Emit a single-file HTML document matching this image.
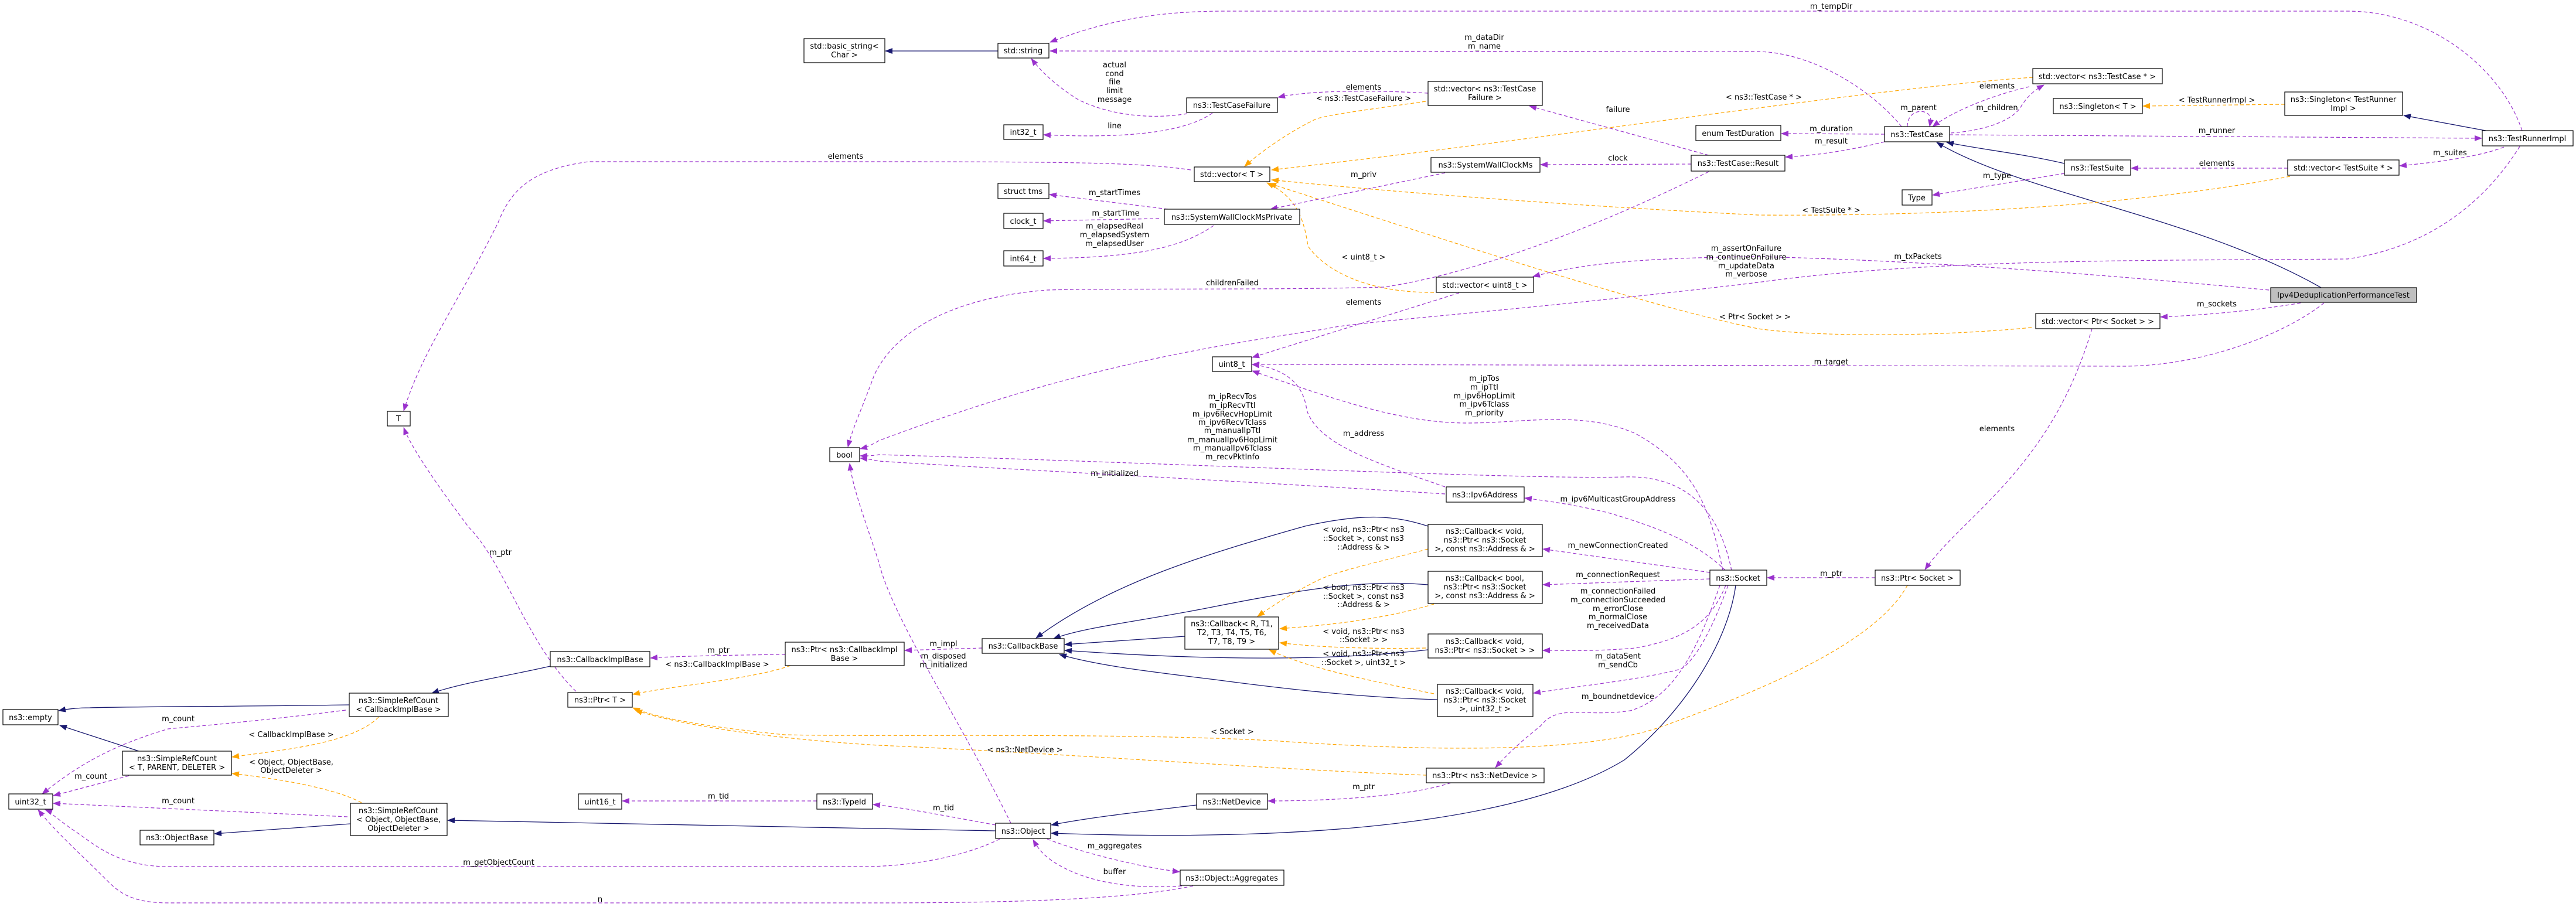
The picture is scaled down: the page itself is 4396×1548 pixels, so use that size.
<!DOCTYPE html>
<html><head><meta charset="utf-8"><style>
html,body{margin:0;padding:0;background:#fff;}
svg{display:block;}
text{font-family:"DejaVu Sans","Liberation Sans",sans-serif;font-size:13px;fill:#000;}
.b{fill:#fff;stroke:#000;stroke-width:1.2;}
.g{fill:#bfbfbf;stroke:#000;stroke-width:1.2;}
.p{fill:none;stroke:#9a32cd;stroke-width:1.2;stroke-dasharray:6,4;marker-end:url(#mp);}
.o{fill:none;stroke:#ffa500;stroke-width:1.2;stroke-dasharray:6,4;marker-end:url(#mo);}
.n{fill:none;stroke:#191970;stroke-width:1.3;marker-end:url(#mn);}
</style></head><body>
<svg width="4396" height="1548" viewBox="0 0 4396 1548" xmlns="http://www.w3.org/2000/svg">
<defs>
<marker id="mp" markerWidth="13" markerHeight="10" refX="12" refY="5" orient="auto" markerUnits="userSpaceOnUse"><path d="M0,0L13,5L0,10z" fill="#9a32cd"/></marker>
<marker id="mo" markerWidth="13" markerHeight="10" refX="12" refY="5" orient="auto" markerUnits="userSpaceOnUse"><path d="M0,0L13,5L0,10z" fill="#ffa500"/></marker>
<marker id="mn" markerWidth="13" markerHeight="10" refX="12" refY="5" orient="auto" markerUnits="userSpaceOnUse"><path d="M0,0L13,5L0,10z" fill="#191970"/></marker>
</defs>

<!-- ===== EDGES: navy inheritance ===== -->
<path class="n" d="M1703,87 L1511,87"/>
<path class="n" d="M3523,279 C3450,262 3380,255 3322,243"/>
<path class="n" d="M3961,491 C3750,370 3450,330 3305,243"/>
<path class="n" d="M4242,223 L4102,197"/>
<path class="n" d="M939,1137 C860,1155 790,1165 737,1183"/>
<path class="n" d="M596,1203 C400,1206 200,1206 153,1208 C130,1208 115,1210 100,1213"/>
<path class="n" d="M237,1282 L102,1238"/>
<path class="n" d="M598,1406 L366,1423"/>
<path class="n" d="M1699,1418 L764,1400"/>
<path class="n" d="M2042,1374 C1950,1385 1860,1395 1794,1408"/>
<path class="n" d="M2962,999 C2950,1090 2880,1210 2772,1297 C2620,1390 2300,1440 1794,1422"/>
<path class="n" d="M2437,898 C2380,880 2330,875 2227,898 C2080,940 1900,990 1768,1089"/>
<path class="n" d="M2437,998 C2340,990 2250,1000 2074,1035 C1950,1060 1850,1070 1798,1090"/>
<path class="n" d="M2022,1086 L1817,1100"/>
<path class="n" d="M2437,1109 C2300,1125 2100,1130 1817,1110"/>
<path class="n" d="M2453,1194 C2300,1190 2150,1170 2074,1160 C1950,1145 1870,1135 1808,1117"/>

<!-- ===== EDGES: orange template ===== -->
<path class="o" d="M2433,173 C2350,185 2270,195 2246,203 C2200,225 2150,260 2124,284"/>
<path class="o" d="M3469,132 C3200,150 2700,230 2170,290"/>
<path class="o" d="M3908,301 C3700,340 3400,370 3000,367 C2700,352 2400,330 2170,307"/>
<path class="o" d="M2447,499 C2330,500 2260,460 2232,420 C2225,370 2210,335 2162,312"/>
<path class="o" d="M3467,559 C3300,575 3100,575 3000,561 C2800,520 2500,420 2166,313"/>
<path class="o" d="M3899,178 L3657,181"/>
<path class="o" d="M646,1224 C600,1270 480,1280 396,1292"/>
<path class="o" d="M617,1370 C570,1345 480,1330 396,1320"/>
<path class="o" d="M1349,1136 C1280,1160 1150,1170 1080,1185"/>
<path class="o" d="M3255,999 C3200,1100 3000,1180 2839,1239 C2700,1290 2400,1280 2170,1264 C1900,1250 1500,1258 1339,1254 C1200,1240 1120,1225 1080,1208"/>
<path class="o" d="M2434,1323 C2200,1315 1800,1285 1500,1272 C1300,1260 1150,1235 1084,1212"/>
<path class="o" d="M2437,937 C2350,960 2280,975 2250,990 C2200,1015 2170,1035 2146,1052"/>
<path class="o" d="M2447,1031 C2350,1060 2250,1068 2184,1073"/>
<path class="o" d="M2433,1106 C2330,1108 2240,1104 2184,1097"/>
<path class="o" d="M2447,1184 C2330,1160 2230,1140 2166,1109"/>

<!-- ===== EDGES: purple usage ===== -->
<path class="p" d="M4304,223 C4270,120 4150,19 4006,19 L2093,19 C1990,19 1900,30 1792,72"/>
<path class="p" d="M3245,216 C3200,160 3100,90 3000,88 L1792,87"/>
<path class="p" d="M2026,194 C1960,205 1890,195 1840,170 C1800,145 1775,120 1760,100"/>
<path class="p" d="M2069,193 C2030,220 1950,238 1781,230"/>
<path class="p" d="M2437,159 C2330,153 2230,155 2181,166"/>
<path class="p" d="M2916,265 L2610,181"/>
<path class="p" d="M2886,280 L2629,281"/>
<path class="p" d="M2466,295 L2168,357"/>
<path class="p" d="M1993,357 L1791,332"/>
<path class="p" d="M1978,373 L1781,377"/>
<path class="p" d="M2071,385 C2020,420 1950,440 1781,441"/>
<path class="p" d="M2032,290 C1950,278 1850,276 1500,276 L1004,276 C900,290 870,330 850,380 C780,520 720,600 689,701"/>
<path class="p" d="M983,1180 C900,1100 860,960 800,900 C740,820 700,760 689,730"/>
<path class="p" d="M2916,293 C2700,400 2500,470 2361,490 C2200,495 1900,492 1787,495 C1600,510 1520,580 1492,640 C1470,700 1455,730 1447,763"/>
<path class="p" d="M3216,242 C3150,258 3100,265 3047,268"/>
<path class="p" d="M3216,229 L3040,228"/>
<path class="p" d="M3255,216 C3255,185 3290,185 3294,200 C3296,206 3294,210 3293,216"/>
<path class="p" d="M3463,148 C3410,160 3340,185 3298,216"/>
<path class="p" d="M3329,227 C3400,222 3440,200 3450,180 C3460,165 3470,155 3488,145"/>
<path class="p" d="M3327,230 L4235,236"/>
<path class="p" d="M4273,251 C4230,268 4150,278 4095,283"/>
<path class="p" d="M3904,287 L3637,287"/>
<path class="p" d="M3523,296 L3298,333"/>
<path class="p" d="M4300,250 C4250,330 4160,420 4006,442 C3700,445 3300,440 3000,482 C2600,530 2300,550 2265,561 C2000,600 1800,640 1500,752 C1490,758 1480,763 1468,766"/>
<path class="p" d="M3872,495 C3600,470 3300,445 3000,438 C2800,440 2700,450 2616,472"/>
<path class="p" d="M3926,517 C3850,530 3760,538 3687,541"/>
<path class="p" d="M3966,517 C3900,570 3760,625 3623,625 L2137,622"/>
<path class="p" d="M3570,561 C3500,800 3350,880 3285,972"/>
<path class="p" d="M3200,986 L3016,986"/>
<path class="p" d="M2490,500 L2137,610"/>
<path class="p" d="M2940,973 C2920,880 2900,800 2791,740 C2700,700 2600,722 2505,722 C2400,722 2300,690 2137,633"/>
<path class="p" d="M2466,831 C2350,790 2250,760 2230,700 C2225,660 2200,630 2137,622"/>
<path class="p" d="M2955,974 C2940,900 2900,810 2772,814 C2600,819 2000,790 1500,776 C1490,778 1480,778 1468,778"/>
<path class="p" d="M2466,843 C2100,820 1700,800 1500,787 C1490,785 1480,783 1468,782"/>
<path class="p" d="M1725,1405 C1650,1250 1520,1050 1500,960 C1470,870 1455,830 1450,791"/>
<path class="p" d="M1340,1117 C1250,1118 1150,1120 1110,1123"/>
<path class="p" d="M1676,1106 L1544,1110"/>
<path class="p" d="M590,1212 C450,1230 330,1240 287,1244 C200,1270 140,1300 72,1355"/>
<path class="p" d="M220,1324 L91,1358"/>
<path class="p" d="M593,1394 L91,1371"/>
<path class="p" d="M1394,1367 L1062,1367"/>
<path class="p" d="M1699,1408 C1600,1390 1540,1378 1490,1373"/>
<path class="p" d="M1706,1432 C1650,1460 1560,1479 1473,1479 L287,1479 C200,1479 160,1440 130,1420 C100,1400 85,1385 77,1382"/>
<path class="p" d="M2036,1512 C1950,1530 1800,1541 1500,1541 L287,1541 C220,1541 200,1520 180,1500 C140,1460 95,1420 65,1382"/>
<path class="p" d="M1787,1432 C1860,1460 1950,1480 2013,1488"/>
<path class="p" d="M2017,1512 C1930,1518 1870,1505 1830,1488 C1790,1470 1775,1455 1763,1433"/>
<path class="p" d="M2476,1336 C2420,1355 2300,1367 2164,1367"/>
<path class="p" d="M2935,999 C2900,1100 2860,1190 2782,1213 C2700,1225 2660,1200 2629,1239 C2590,1270 2570,1290 2552,1310"/>
<path class="p" d="M2945,974 C2900,930 2840,903 2744,875 C2680,860 2640,855 2602,850"/>
<path class="p" d="M2918,977 L2633,937"/>
<path class="p" d="M2918,988 L2633,998"/>
<path class="p" d="M2945,999 C2920,1060 2880,1090 2791,1106 C2720,1112 2680,1110 2633,1110"/>
<path class="p" d="M2949,999 C2920,1080 2890,1130 2868,1142 C2800,1160 2700,1170 2617,1183"/>

<!-- ===== EDGE LABELS ===== -->
<g text-anchor="middle">
<text x="3125" y="15">m_tempDir</text>
<text x="2533" y="68">m_dataDir</text><text x="2533" y="83">m_name</text>
<text x="1902" y="115">actual</text><text x="1902" y="130">cond</text><text x="1902" y="144">file</text><text x="1902" y="159">limit</text><text x="1902" y="174">message</text>
<text x="1902" y="219">line</text>
<text x="2327" y="153">elements</text>
<text x="2327" y="172">&lt; ns3::TestCaseFailure &gt;</text>
<text x="3010" y="170">&lt; ns3::TestCase * &gt;</text>
<text x="2761" y="191">failure</text>
<text x="2761" y="274">clock</text>
<text x="2327" y="302">m_priv</text>
<text x="1902" y="333">m_startTimes</text>
<text x="1904" y="368">m_startTime</text>
<text x="1902" y="390">m_elapsedReal</text><text x="1902" y="405">m_elapsedSystem</text><text x="1902" y="420">m_elapsedUser</text>
<text x="1443" y="271">elements</text>
<text x="3408" y="151">elements</text>
<text x="3274" y="188">m_parent</text>
<text x="3408" y="188">m_children</text>
<text x="3125" y="224">m_duration</text>
<text x="3125" y="245">m_result</text>
<text x="3783" y="175">&lt; TestRunnerImpl &gt;</text>
<text x="3783" y="227">m_runner</text>
<text x="4181" y="265">m_suites</text>
<text x="3783" y="283">elements</text>
<text x="3408" y="304">m_type</text>
<text x="3125" y="363">&lt; TestSuite * &gt;</text>
<text x="2327" y="443">&lt; uint8_t &gt;</text>
<text x="2103" y="487">childrenFailed</text>
<text x="2980" y="428">m_assertOnFailure</text><text x="2980" y="443">m_continueOnFailure</text><text x="2980" y="458">m_updateData</text><text x="2980" y="472">m_verbose</text>
<text x="3273" y="442">m_txPackets</text>
<text x="3783" y="523">m_sockets</text>
<text x="2327" y="520">elements</text>
<text x="2995" y="545">&lt; Ptr&lt; Socket &gt; &gt;</text>
<text x="3125" y="622">m_target</text>
<text x="2533" y="650">m_ipTos</text><text x="2533" y="665">m_ipTtl</text><text x="2533" y="680">m_ipv6HopLimit</text><text x="2533" y="694">m_ipv6Tclass</text><text x="2533" y="709">m_priority</text>
<text x="2103" y="681">m_ipRecvTos</text><text x="2103" y="696">m_ipRecvTtl</text><text x="2103" y="711">m_ipv6RecvHopLimit</text><text x="2103" y="725">m_ipv6RecvTclass</text><text x="2103" y="739">m_manualIpTtl</text><text x="2103" y="755">m_manualIpv6HopLimit</text><text x="2103" y="769">m_manualIpv6Tclass</text><text x="2103" y="784">m_recvPktInfo</text>
<text x="3408" y="736">elements</text>
<text x="2327" y="744">m_address</text>
<text x="1902" y="812">m_initialized</text>
<text x="2761" y="856">m_ipv6MulticastGroupAddress</text>
<text x="854" y="947">m_ptr</text>
<text x="2327" y="908">&lt; void, ns3::Ptr&lt; ns3</text><text x="2327" y="923">::Socket &gt;, const ns3</text><text x="2327" y="938">::Address &amp; &gt;</text>
<text x="2761" y="935">m_newConnectionCreated</text>
<text x="3125" y="983">m_ptr</text>
<text x="2761" y="985">m_connectionRequest</text>
<text x="2327" y="1007">&lt; bool, ns3::Ptr&lt; ns3</text><text x="2327" y="1022">::Socket &gt;, const ns3</text><text x="2327" y="1036">::Address &amp; &gt;</text>
<text x="2761" y="1013">m_connectionFailed</text><text x="2761" y="1028">m_connectionSucceeded</text><text x="2761" y="1043">m_errorClose</text><text x="2761" y="1057">m_normalClose</text><text x="2761" y="1072">m_receivedData</text>
<text x="2327" y="1082">&lt; void, ns3::Ptr&lt; ns3</text><text x="2327" y="1096">::Socket &gt; &gt;</text>
<text x="1610" y="1103">m_impl</text>
<text x="1226" y="1114">m_ptr</text>
<text x="2327" y="1120">&lt; void, ns3::Ptr&lt; ns3</text><text x="2327" y="1135">::Socket &gt;, uint32_t &gt;</text>
<text x="1610" y="1124">m_disposed</text><text x="1610" y="1139">m_initialized</text>
<text x="2761" y="1124">m_dataSent</text><text x="2761" y="1139">m_sendCb</text>
<text x="1224" y="1138">&lt; ns3::CallbackImplBase &gt;</text>
<text x="2761" y="1193">m_boundnetdevice</text>
<text x="304" y="1231">m_count</text>
<text x="2103" y="1253">&lt; Socket &gt;</text>
<text x="497" y="1258">&lt; CallbackImplBase &gt;</text>
<text x="1749" y="1284">&lt; ns3::NetDevice &gt;</text>
<text x="497" y="1305">&lt; Object, ObjectBase,</text><text x="497" y="1319">ObjectDeleter &gt;</text>
<text x="155" y="1329">m_count</text>
<text x="2327" y="1347">m_ptr</text>
<text x="1226" y="1363">m_tid</text>
<text x="304" y="1371">m_count</text>
<text x="1610" y="1383">m_tid</text>
<text x="1902" y="1448">m_aggregates</text>
<text x="851" y="1476">m_getObjectCount</text>
<text x="1902" y="1492">buffer</text>
<text x="1024" y="1539">n</text>
</g>

<!-- ===== NODES ===== -->
<g text-anchor="middle">
<rect class="b" x="1372" y="66" width="138" height="41"/><text x="1441" y="83">std::basic_string&lt;</text><text x="1441" y="98">Char &gt;</text>
<rect class="b" x="1703" y="74" width="87" height="25"/><text x="1746" y="91">std::string</text>
<rect class="b" x="2025" y="167" width="155" height="25"/><text x="2102" y="184">ns3::TestCaseFailure</text>
<rect class="b" x="1713" y="213" width="67" height="25"/><text x="1746" y="230">int32_t</text>
<rect class="b" x="2437" y="139" width="195" height="41"/><text x="2534" y="156">std::vector&lt; ns3::TestCase</text><text x="2534" y="171">Failure &gt;</text>
<rect class="b" x="2038" y="285" width="129" height="25"/><text x="2102" y="302">std::vector&lt; T &gt;</text>
<rect class="b" x="2894" y="214" width="145" height="26"/><text x="2966" y="232">enum TestDuration</text>
<rect class="b" x="2886" y="265" width="160" height="27"/><text x="2966" y="283">ns3::TestCase::Result</text>
<rect class="b" x="2442" y="269" width="186" height="25"/><text x="2535" y="286">ns3::SystemWallClockMs</text>
<rect class="b" x="1703" y="313" width="87" height="26"/><text x="1746" y="331">struct tms</text>
<rect class="b" x="1713" y="364" width="67" height="26"/><text x="1746" y="382">clock_t</text>
<rect class="b" x="1987" y="357" width="231" height="26"/><text x="2102" y="375">ns3::SystemWallClockMsPrivate</text>
<rect class="b" x="1713" y="428" width="67" height="26"/><text x="1746" y="446">int64_t</text>
<rect class="b" x="2451" y="473" width="166" height="26"/><text x="2534" y="491">std::vector&lt; uint8_t &gt;</text>
<rect class="b" x="2069" y="609" width="67" height="25"/><text x="2102" y="626">uint8_t</text>
<rect class="b" x="3469" y="117" width="221" height="26"/><text x="3579" y="135">std::vector&lt; ns3::TestCase * &gt;</text>
<rect class="b" x="3504" y="168" width="152" height="26"/><text x="3580" y="186">ns3::Singleton&lt; T &gt;</text>
<rect class="b" x="3899" y="157" width="201" height="40"/><text x="3999" y="174">ns3::Singleton&lt; TestRunner</text><text x="3999" y="189">Impl &gt;</text>
<rect class="b" x="3216" y="216" width="111" height="26"/><text x="3271" y="234">ns3::TestCase</text>
<rect class="b" x="4236" y="223" width="155" height="26"/><text x="4313" y="241">ns3::TestRunnerImpl</text>
<rect class="b" x="3523" y="273" width="113" height="26"/><text x="3579" y="291">ns3::TestSuite</text>
<rect class="b" x="3904" y="273" width="190" height="26"/><text x="3999" y="291">std::vector&lt; TestSuite * &gt;</text>
<rect class="b" x="3246" y="324" width="51" height="26"/><text x="3271" y="342">Type</text>
<rect class="g" x="3875" y="491" width="249" height="25"/><text x="3999" y="508">Ipv4DeduplicationPerformanceTest</text>
<rect class="b" x="3474" y="535" width="212" height="26"/><text x="3580" y="553">std::vector&lt; Ptr&lt; Socket &gt; &gt;</text>
<rect class="b" x="661" y="702" width="39" height="25"/><text x="680" y="719">T</text>
<rect class="b" x="1416" y="764" width="51" height="24"/><text x="1441" y="781">bool</text>
<rect class="b" x="939" y="1112" width="170" height="26"/><text x="1024" y="1130">ns3::CallbackImplBase</text>
<rect class="b" x="1340" y="1096" width="203" height="40"/><text x="1441" y="1113">ns3::Ptr&lt; ns3::CallbackImpl</text><text x="1441" y="1128">Base &gt;</text>
<rect class="b" x="969" y="1182" width="110" height="25"/><text x="1024" y="1199">ns3::Ptr&lt; T &gt;</text>
<rect class="b" x="596" y="1183" width="169" height="40"/><text x="680" y="1200">ns3::SimpleRefCount</text><text x="680" y="1215">&lt; CallbackImplBase &gt;</text>
<rect class="b" x="5" y="1211" width="94" height="26"/><text x="52" y="1229">ns3::empty</text>
<rect class="b" x="209" y="1282" width="186" height="41"/><text x="302" y="1299">ns3::SimpleRefCount</text><text x="302" y="1314">&lt; T, PARENT, DELETER &gt;</text>
<rect class="b" x="15" y="1355" width="75" height="26"/><text x="52" y="1373">uint32_t</text>
<rect class="b" x="598" y="1371" width="165" height="55"/><text x="680" y="1388">ns3::SimpleRefCount</text><text x="680" y="1403">&lt; Object, ObjectBase,</text><text x="680" y="1418">ObjectDeleter &gt;</text>
<rect class="b" x="239" y="1417" width="126" height="25"/><text x="302" y="1434">ns3::ObjectBase</text>
<rect class="b" x="987" y="1355" width="74" height="26"/><text x="1024" y="1373">uint16_t</text>
<rect class="b" x="1394" y="1355" width="95" height="26"/><text x="1441" y="1373">ns3::TypeId</text>
<rect class="b" x="2468" y="831" width="133" height="26"/><text x="2534" y="849">ns3::Ipv6Address</text>
<rect class="b" x="2437" y="895" width="195" height="55"/><text x="2534" y="911">ns3::Callback&lt; void,</text><text x="2534" y="926">ns3::Ptr&lt; ns3::Socket</text><text x="2534" y="941">&gt;, const ns3::Address &amp; &gt;</text>
<rect class="b" x="2437" y="975" width="195" height="55"/><text x="2534" y="991">ns3::Callback&lt; bool,</text><text x="2534" y="1006">ns3::Ptr&lt; ns3::Socket</text><text x="2534" y="1021">&gt;, const ns3::Address &amp; &gt;</text>
<rect class="b" x="2022" y="1053" width="160" height="55"/><text x="2102" y="1069">ns3::Callback&lt; R, T1,</text><text x="2102" y="1084">T2, T3, T4, T5, T6,</text><text x="2102" y="1099">T7, T8, T9 &gt;</text>
<rect class="b" x="1676" y="1090" width="140" height="25"/><text x="1746" y="1107">ns3::CallbackBase</text>
<rect class="b" x="2437" y="1082" width="195" height="41"/><text x="2534" y="1099">ns3::Callback&lt; void,</text><text x="2534" y="1114">ns3::Ptr&lt; ns3::Socket &gt; &gt;</text>
<rect class="b" x="2453" y="1168" width="163" height="55"/><text x="2534" y="1184">ns3::Callback&lt; void,</text><text x="2534" y="1199">ns3::Ptr&lt; ns3::Socket</text><text x="2534" y="1214">&gt;, uint32_t &gt;</text>
<rect class="b" x="2918" y="973" width="97" height="26"/><text x="2966" y="991">ns3::Socket</text>
<rect class="b" x="3200" y="973" width="145" height="26"/><text x="3272" y="991">ns3::Ptr&lt; Socket &gt;</text>
<rect class="b" x="2434" y="1311" width="201" height="25"/><text x="2534" y="1328">ns3::Ptr&lt; ns3::NetDevice &gt;</text>
<rect class="b" x="2042" y="1355" width="121" height="26"/><text x="2102" y="1373">ns3::NetDevice</text>
<rect class="b" x="1699" y="1405" width="94" height="26"/><text x="1746" y="1423">ns3::Object</text>
<rect class="b" x="2014" y="1485" width="177" height="26"/><text x="2102" y="1503">ns3::Object::Aggregates</text>
</g>
</svg>
</body></html>
